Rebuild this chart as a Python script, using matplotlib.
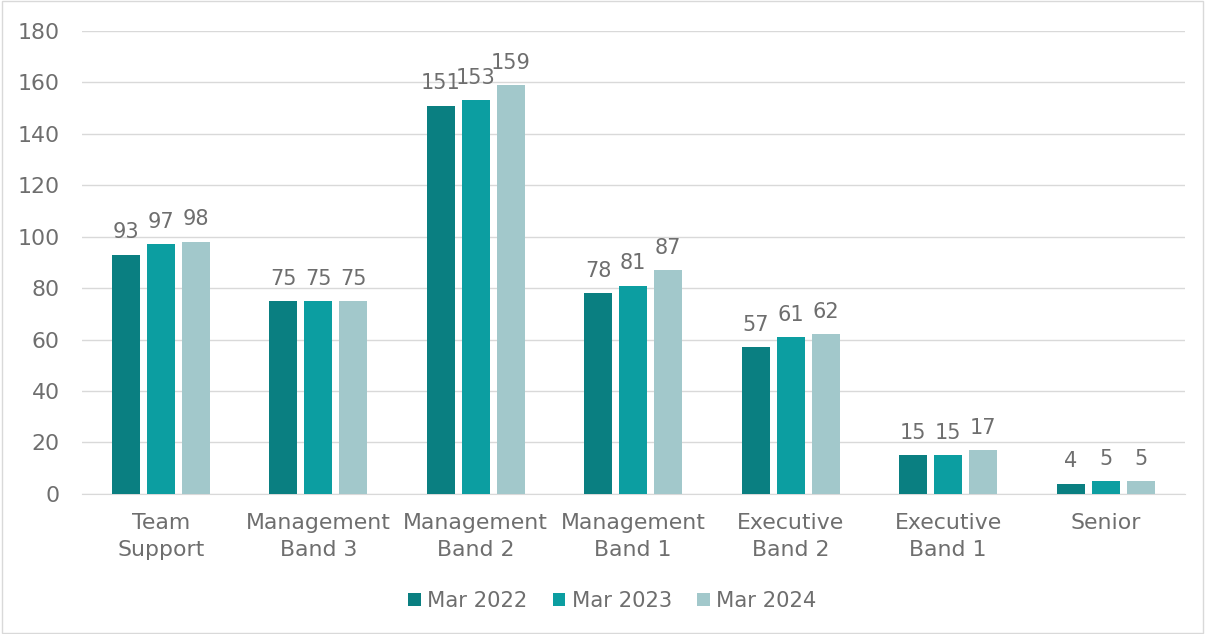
import matplotlib.pyplot as plt
import numpy as np
from matplotlib.patches import Rectangle

# Data
CATEGORIES = ["Team\nSupport", "Management\nBand 3", "Management\nBand 2", "Management\nBand 1",
              "Executive\nBand 2", "Executive\nBand 1", "Senior"]
SERIES = ["Mar 2022", "Mar 2023", "Mar 2024"]
MAR_2022 = [93, 75, 151, 78, 57, 15, 4]
MAR_2023 = [97, 75, 153, 81, 61, 15, 5]
MAR_2024 = [98, 75, 159, 87, 62, 17, 5]
COLORS = ["#0A7F81", "#0C9EA1", "#A2C8CB"]
TEXT = "#6E6E6E"
FS = 15.8

plt.rcParams['font.family'] = ['DejaVu Sans']

fig = plt.figure(figsize=(12.05, 6.34), dpi=100)
ax = fig.add_axes([0.068, 0.221, 0.915, 0.730])

x = np.arange(len(CATEGORIES))
width = 0.178
offset = 0.222
for i, (vals, name) in enumerate(zip([MAR_2022, MAR_2023, MAR_2024], SERIES)):
    bars = ax.bar(x + (i - 1) * offset, vals, width, color=COLORS[i], label=name, zorder=3)
    ax.bar_label(bars, padding=9, fontsize=15, color=TEXT)

ax.set_xlim(-0.5, len(CATEGORIES) - 0.5)
ax.set_ylim(0, 180)
ax.set_yticks(range(0, 181, 20))
ax.set_xticks(x)
ax.set_xticklabels(CATEGORIES, fontsize=FS, color=TEXT, linespacing=1.4)
ax.tick_params(axis='y', labelsize=FS, labelcolor=TEXT, length=0, pad=16)
ax.tick_params(axis='x', length=0, pad=14)
ax.grid(axis='y', color="#D9D9D9", linewidth=1, zorder=0)
for s in ["top", "right", "left"]:
    ax.spines[s].set_visible(False)
ax.spines["bottom"].set_color("#D9D9D9")

fig.legend(loc="center", bbox_to_anchor=(0.508, 0.052), ncol=3, frameon=False,
           fontsize=15.2, labelcolor=TEXT, handlelength=0.6, handleheight=0.6,
           handletextpad=0.3, columnspacing=1.2)

fig.add_artist(Rectangle((0.002, 0.002), 0.996, 0.996, transform=fig.transFigure,
                         fill=False, edgecolor="#D9D9D9", linewidth=1))

fig.savefig("out.png", dpi=100)
